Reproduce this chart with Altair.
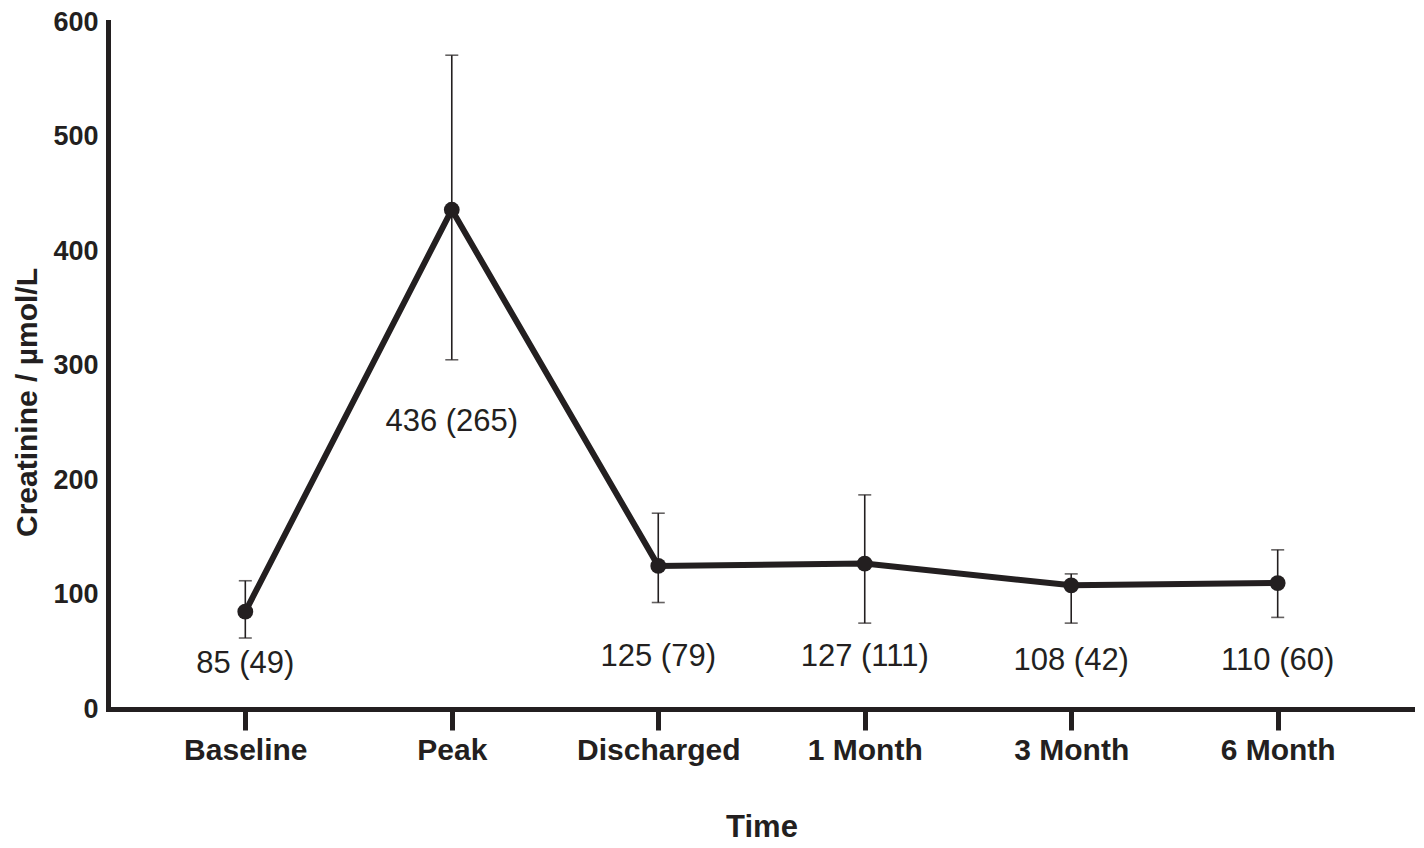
import altair as alt
import pandas as pd

# ---- data ----
times = ["Baseline", "Peak", "Discharged", "1 Month", "3 Month", "6 Month"]
medians = [85, 436, 125, 127, 108, 110]
spreads = [49, 265, 79, 111, 42, 60]
err_low = [62, 305, 93, 75, 75, 80]
err_high = [112, 571, 171, 187, 118, 139]
label_anchor = [39, 251, 45, 45, 42, 42]   # where the value labels sit (data units)
y_ticks = [0, 100, 200, 300, 400, 500, 600]

df = pd.DataFrame({
    "time": times,
    "median": medians,
    "low": err_low,
    "high": err_high,
    "label_y": label_anchor,
    "label": [f"{m} ({s})" for m, s in zip(medians, spreads)],
})

INK = "#231f20"
FONT = "Liberation Sans"

x_enc = alt.X(
    "time:N",
    sort=times,
    scale=alt.Scale(type="point", padding=0.665),
    axis=alt.Axis(
        title="Time",
        titleFontSize=31,
        titleFontWeight="bold",
        titleColor=INK,
        titleFont=FONT,
        titleY=134,
        titleBaseline="bottom",
        labelFontSize=30,
        labelFontWeight="bold",
        labelColor=INK,
        labelFont=FONT,
        labelAngle=0,
        labelPadding=5,
        tickSize=21,
        tickWidth=5,
        tickColor=INK,
        domainColor=INK,
        domainWidth=5,
        domainCap="square",
        grid=False,
    ),
)

y_scale = alt.Scale(domain=[0, 600], nice=False)
y_axis = alt.Axis(
    title="Creatinine / µmol/L",
    titleFontSize=30,
    titleFontWeight="bold",
    titleColor=INK,
    titleFont=FONT,
    titleX=-81,
    titleY=380,
    titleBaseline="middle",
    values=y_ticks,
    labelFontSize=27,
    labelFontWeight="bold",
    labelColor=INK,
    labelFont=FONT,
    labelPadding=10,
    ticks=False,
    domainColor=INK,
    domainWidth=5,
    domainCap="square",
    grid=False,
)

base = alt.Chart(df)

line = base.mark_line(color=INK, strokeWidth=6).encode(
    x=x_enc,
    y=alt.Y("median:Q", scale=y_scale, axis=y_axis),
)

err = base.mark_rule(color=INK, strokeWidth=1.6).encode(
    x=alt.X("time:N", sort=times),
    y="low:Q",
    y2="high:Q",
)

cap_low = base.mark_tick(color=INK, thickness=1.6, size=13, orient="horizontal").encode(
    x=alt.X("time:N", sort=times),
    y="low:Q",
)
cap_high = base.mark_tick(color=INK, thickness=1.6, size=13, orient="horizontal").encode(
    x=alt.X("time:N", sort=times),
    y="high:Q",
)

points = base.mark_point(filled=True, color=INK, size=250, opacity=1).encode(
    x=alt.X("time:N", sort=times),
    y="median:Q",
)

labels = base.mark_text(
    color=INK, fontSize=31, font=FONT, baseline="middle", align="center"
).encode(
    x=alt.X("time:N", sort=times),
    y="label_y:Q",
    text="label:N",
)

chart = (
    alt.layer(line, err, cap_low, cap_high, points, labels)
    .properties(
        width=1307,
        height=687,
        autosize=alt.AutoSizeParams(type="none"),
        padding={"left": 100, "top": 14, "right": 0, "bottom": 135},
        background="white",
    )
    .configure_view(stroke=None)
)

chart.save("out.html", embed_options={"renderer": "svg", "actions": False})
